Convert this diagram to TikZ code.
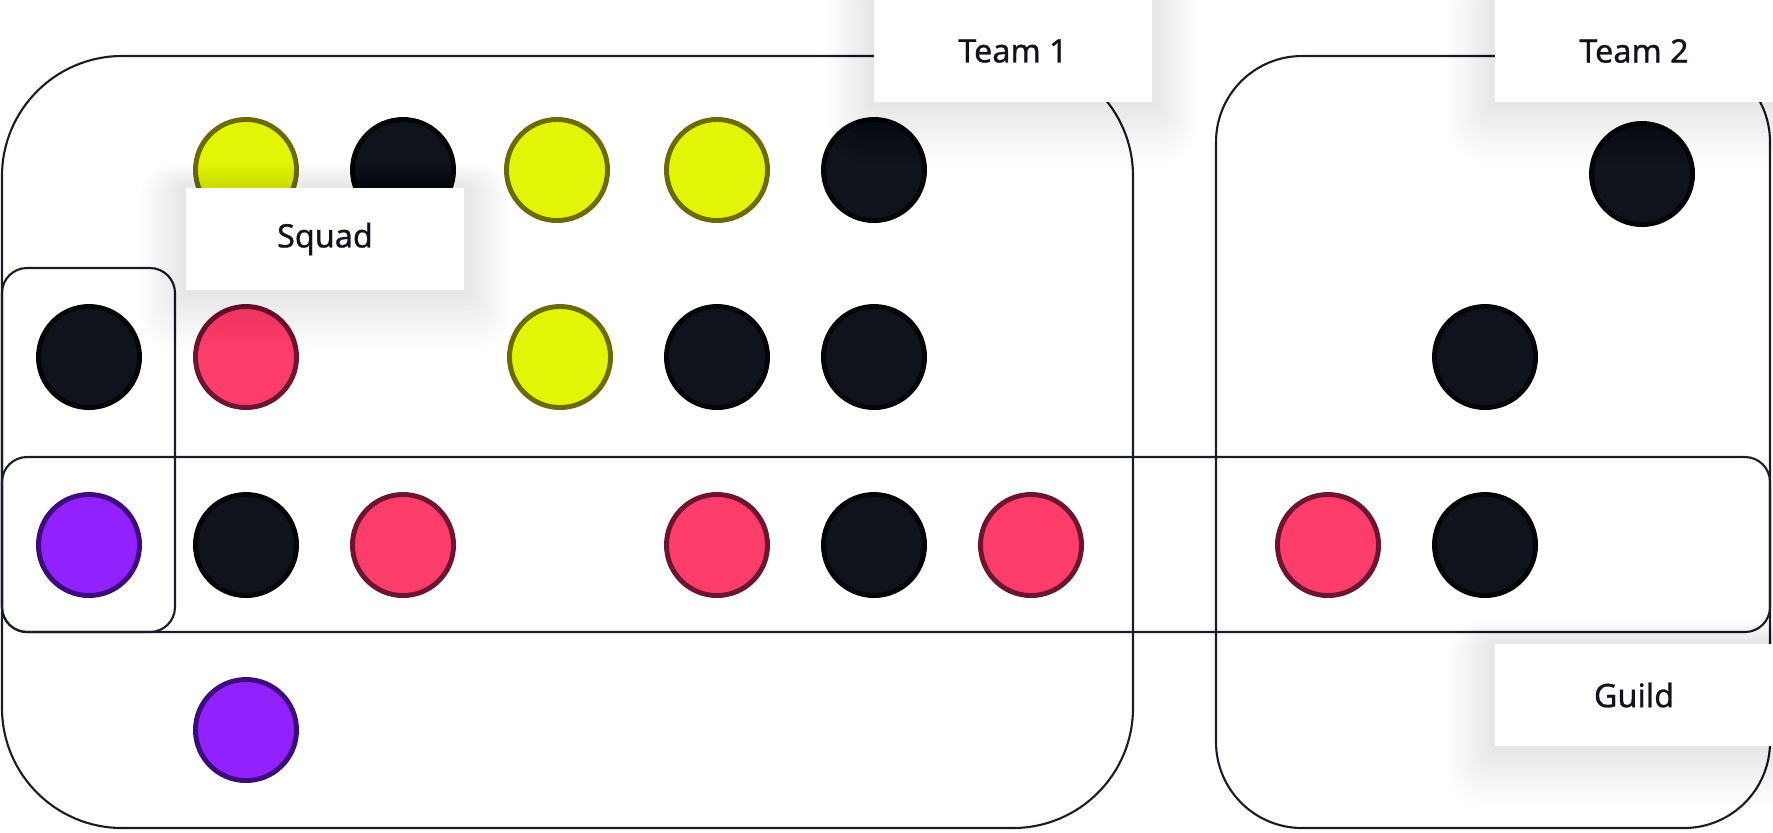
\documentclass[tikz,border=0pt]{standalone}
\usepackage{fontspec}
\setsansfont{Noto Sans}[FakeBold=0.8]
\usepackage{xcolor}
\usepackage{tikz}
\usetikzlibrary{positioning, calc}
\definecolor{ink}{HTML}{11131C}
\definecolor{inkline}{HTML}{050507}
\definecolor{limefill}{HTML}{E2F506}
\definecolor{limeline}{HTML}{6B6B00}
\definecolor{rosefill}{HTML}{FF3D6A}
\definecolor{roseline}{HTML}{6D1530}
\definecolor{violetfill}{HTML}{9121FF}
\definecolor{violetline}{HTML}{3E0B7D}
\definecolor{frame}{HTML}{1A1C28}
\pgfdeclarelayer{shade}
\pgfdeclarelayer{front}
\pgfsetlayers{main,shade,front}

\begin{document}
\begin{tikzpicture}[
    x=0.01cm, y=-0.01cm,
    group/.style={draw=frame, line width=0.6pt},
    dot/.style={circle, inner sep=0pt, minimum size=1.01cm, line width=1.4pt},
    dotdark/.style={dot, fill=ink, draw=inkline},
    dotlime/.style={dot, fill=limefill, draw=limeline},
    dotrose/.style={dot, fill=rosefill, draw=roseline},
    dotviolet/.style={dot, fill=violetfill, draw=violetline},
    tag/.style={rectangle, fill=white, minimum width=2.78cm, minimum height=1.02cm, font=\sffamily\fontsize{9.2}{11}\selectfont, text=ink}
]
\useasboundingbox (0,0) rectangle (1773,832);

% groups
\draw[group, rounded corners=1.2cm] (2,56) rectangle (1133,828);
\draw[group, rounded corners=0.86cm] (1216,56) rectangle (1770,828);
\draw[group, rounded corners=0.25cm] (2,268) rectangle (175,632);
\draw[group, rounded corners=0.25cm] (2,457) rectangle (1770,632);

% members
\foreach \px/\py/\kind/\name in {
    246/170/dotlime/a1, 403/170/dotdark/a2, 557/170/dotlime/a3, 717/170/dotlime/a4, 874/170/dotdark/a5,
    89/357/dotdark/b1, 246/357/dotrose/b2, 560/357/dotlime/b3, 717/357/dotdark/b4, 874/357/dotdark/b5,
    89/545/dotviolet/c1, 246/545/dotdark/c2, 403/545/dotrose/c3, 717/545/dotrose/c4, 874/545/dotdark/c5, 1031/545/dotrose/c6,
    246/730/dotviolet/d1,
    1642/174/dotdark/e1, 1485/357/dotdark/e2, 1328/545/dotrose/e3, 1485/545/dotdark/e4}
    \node[\kind] (\name) at (\px,\py) {};

% labels
\begin{pgfonlayer}{front}
\node[tag] (team1) at (1013,51) {Team 1};
\node[tag] (team2) at (1634,51) {Team 2};
\node[tag] (squad) at (325,239) {Squad};
\node[tag] (guild) at (1634,695) {Guild};
\end{pgfonlayer}

\begin{pgfonlayer}{shade}
\foreach \lab in {team1,team2,squad,guild}
  \foreach \k in {1,...,12}
    \fill[black, opacity=0.008, rounded corners=\k*0.3mm]
      ([xshift=-\k*0.38mm, yshift=-\k*0.5mm]\lab.south west) rectangle
      ([xshift=\k*0.38mm, yshift=\k*0.2mm]\lab.north east);
\end{pgfonlayer}
\end{tikzpicture}
\end{document}
